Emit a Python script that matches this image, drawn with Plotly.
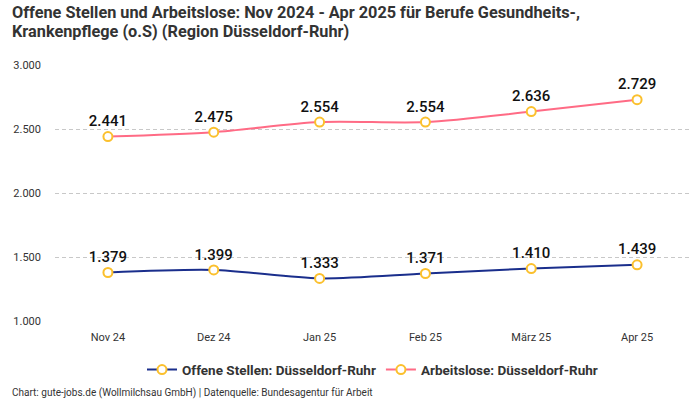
import plotly.graph_objects as go

months = ["Nov 24", "Dez 24", "Jan 25", "Feb 25", "März 25", "Apr 25"]
offene = [1379, 1399, 1333, 1371, 1410, 1439]
arbeitslose = [2441, 2475, 2554, 2554, 2636, 2729]
title_lines = ["Offene Stellen und Arbeitslose: Nov 2024 - Apr 2025 für Berufe Gesundheits-,",
               "Krankenpflege (o.S) (Region Düsseldorf-Ruhr)"]

FONT = "Roboto"

def fmt(v):
    return f"{v:,}".replace(",", ".")

fig = go.Figure()
for name, vals, col in [("Offene Stellen: Düsseldorf-Ruhr", offene, "#1a2e8c"),
                        ("Arbeitslose: Düsseldorf-Ruhr", arbeitslose, "#ff6b85")]:
    fig.add_trace(go.Scatter(
        x=months, y=vals, name=name, mode="lines+markers+text",
        line=dict(color=col, width=2, shape="spline", smoothing=0.8),
        marker=dict(size=9, color="white", line=dict(color="#fbc02d", width=2)),
        text=[fmt(v) for v in vals], textposition="top center",
        textfont=dict(size=15, color="#111111", family=FONT, weight=500),
        cliponaxis=False,
    ))

fig.update_layout(
    width=700, height=400, autosize=False,
    margin=dict(l=55, r=10, t=65, b=79, autoexpand=False),
    plot_bgcolor="white", paper_bgcolor="white",
    separators=",.",
    font=dict(family=FONT, color="#333333"),
    xaxis=dict(range=[-0.5, 5.5], showgrid=False, showline=False, ticks="",
               tickfont=dict(size=11, color="#333333"), automargin=False,
               ticklabelstandoff=8),
    yaxis=dict(range=[1000, 3000], tickvals=[1000, 1500, 2000, 2500, 3000],
               tickformat=",d", showgrid=True, gridcolor="#c8c8c8", griddash="4px,3px",
               zeroline=False, tickfont=dict(size=11, color="#333333"), automargin=False,
               ticklabelstandoff=13),
    legend=dict(orientation="h", x=0.5, xanchor="center", y=-0.13, yanchor="top",
                font=dict(size=13.5, color="#333333", family=FONT, weight="bold")),
    showlegend=True,
)
for i, (line, ypix) in enumerate(zip(title_lines, [12, 31])):
    fig.add_annotation(text=f"<b>{line}</b>", xref="paper", yref="paper",
                       x=(10 - 55) / 635, y=(321 - ypix) / 256,
                       xanchor="left", yanchor="middle", showarrow=False,
                       font=dict(size=16.3, color="#333333", family=FONT))
fig.add_annotation(text="Chart: gute-jobs.de (Wollmilchsau GmbH) | Datenquelle: Bundesagentur für Arbeit",
                   xref="paper", yref="paper", x=(10 - 55) / 635, y=(321 - 393) / 256,
                   xanchor="left", yanchor="middle",
                   showarrow=False, font=dict(size=10, color="#333333", family=FONT))
fig.write_html("out.html", config={"displayModeBar": False},
               post_script="document.body.style.margin='0';")
